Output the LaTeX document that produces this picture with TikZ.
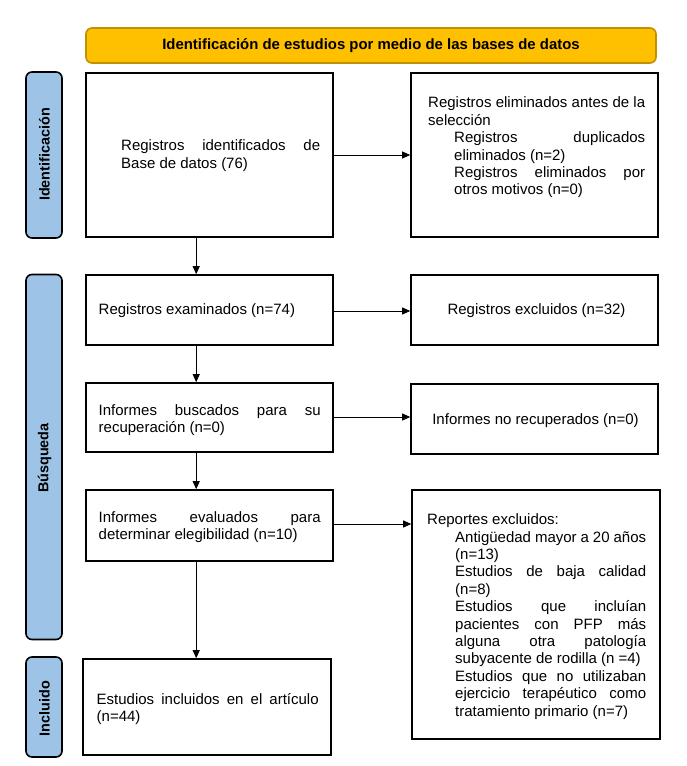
\documentclass[tikz,border=0pt]{standalone}
\usepackage{fontspec}
\setmainfont{Liberation Sans}
\usetikzlibrary{arrows.meta}
\definecolor{headgold}{HTML}{FFC000}
\definecolor{headline}{HTML}{BF9000}
\definecolor{sideblue}{HTML}{9DC3E6}
\hyphenpenalty=10000
\exhyphenpenalty=10000
\tolerance=10000
\emergencystretch=10pt
\hbadness=10000
\hfuzz=3pt
\begin{document}
\begin{tikzpicture}[x=1pt,y=-1pt,
  stagebox/.style={draw=black, line width=1.6pt, inner sep=0pt},
  sidebox/.style={draw=black, line width=1.6pt, fill=sideblue, rounded corners=6pt, inner sep=0pt, minimum width=36pt},
  sidelabel/.style={rotate=90, font=\fontsize{14.4}{16}\selectfont\bfseries, inner sep=0pt},
  txt/.style={font=\fontsize{15}{17.4}\selectfont, inner sep=0pt, align=justify, text width=#1},
  plain/.style={font=\fontsize{15}{17.4}\selectfont, inner sep=0pt},
  arr/.style={-{Triangle[length=8pt,width=7pt]}, line width=0.9pt, draw=black}
]
\useasboundingbox (0,0) rectangle (687,766);
\fill[white] (0,0) rectangle (687,766);

% header
\node[draw=headline, line width=1.6pt, fill=headgold, rounded corners=6pt,
      minimum width=570pt, minimum height=35pt, inner sep=0pt,
      font=\fontsize{14.9}{17}\selectfont\bfseries] (head) at (371,45.5)
      {Identificación de estudios por medio de las bases de datos};

% side labels
\node[sidebox, minimum height=166pt] (sid) at (44,155) {};
\node[sidelabel] (sidt) at (44.5,154.5) {Identificación};
\node[sidebox, minimum height=365pt] (sbu) at (44,457) {};
\node[sidelabel] (sbut) at (44.5,458) {Búsqueda};
\node[sidebox, minimum height=100pt] (sin) at (44,707) {};
\node[sidelabel] (sint) at (44.5,708.5) {Incluido};

% boxes
\node[stagebox, minimum width=247pt, minimum height=164pt] (b1) at (209.5,155) {};
\node[stagebox, minimum width=247pt, minimum height=164pt] (b2) at (534.5,155) {};
\node[stagebox, minimum width=247pt, minimum height=70pt] (b3) at (209.5,310) {};
\node[stagebox, minimum width=247pt, minimum height=70pt] (b4) at (534.5,310) {};
\node[stagebox, minimum width=247pt, minimum height=69pt] (b5) at (209.5,417.5) {};
\node[stagebox, minimum width=247pt, minimum height=70pt] (b6) at (534.5,419) {};
\node[stagebox, minimum width=247pt, minimum height=71pt] (b7) at (209.5,525.5) {};
\node[stagebox, minimum width=248pt, minimum height=249pt] (b8) at (536,614.5) {};
\node[stagebox, minimum width=248pt, minimum height=96pt] (b9) at (207,707) {};

% texts
\node[txt=199pt, anchor=west] (t1) at (121,155.5)
  {Registros identificados de\linebreak Base de datos (76)};
\node[txt=217pt, anchor=west] (t2) at (428,147.5)
  {Registros eliminados antes de la selección\par
   \leftskip=26pt Registros duplicados\linebreak eliminados (n=2)\par
   Registros eliminados por\linebreak otros motivos (n=0)\par};
\node[plain, anchor=west] (t3) at (98.5,311) {Registros examinados (n=74)};
\node[plain] (t4) at (536.5,311) {Registros excluidos (n=32)};
\node[txt=222pt, anchor=west] (t5) at (98.5,420)
  {Informes buscados para su\linebreak recuperación (n=0)};
\node[plain] (t6) at (535.5,421) {Informes no recuperados (n=0)};
\node[txt=222pt, anchor=west] (t7) at (98.5,527)
  {Informes evaluados para\linebreak determinar elegibilidad (n=10)};
\node[txt=219pt, anchor=west] (t8) at (427,616.5)
  {Reportes excluidos:\par
   \leftskip=28pt Antigüedad mayor a 20 años\linebreak (n=13)\par
   Estudios de baja calidad\linebreak (n=8)\par
   Estudios que incluían\linebreak pacientes con PFP más\linebreak alguna otra patología\linebreak subyacente de rodilla (n~=4)\par
   Estudios que no utilizaban\linebreak ejercicio terapéutico como\linebreak tratamiento primario (n=7)\par};
\node[txt=222pt, anchor=west] (t9) at (96.5,709)
  {Estudios incluidos en el artículo\linebreak (n=44)};

% connectors
\draw[arr] (b1.east) -- (b2.west);
\draw[arr] ([yshift=-1pt]b3.east) -- ([yshift=-1pt]b3.east -| b4.west);
\draw[arr] ([yshift=0.5pt]b5.east) -- ([yshift=0.5pt]b5.east -| b6.west);
\draw[arr] ([yshift=1.5pt]b7.east) -- ([yshift=1.5pt]b7.east -| b8.west);
\draw[arr] ([xshift=111pt]b1.south west) -- ([xshift=111pt]b3.north west);
\draw[arr] ([xshift=111pt]b3.south west) -- ([xshift=111pt]b5.north west);
\draw[arr] ([xshift=111pt]b5.south west) -- ([xshift=111pt]b7.north west);
\draw[arr] ([xshift=111pt]b7.south west) -- ([xshift=111pt]b7.south west |- b9.north);
\end{tikzpicture}
\end{document}
